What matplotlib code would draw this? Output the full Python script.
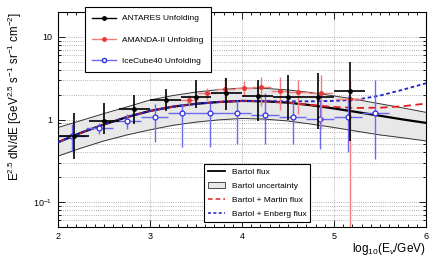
import matplotlib
matplotlib.use("Agg")
import matplotlib.pyplot as plt
from matplotlib.lines import Line2D
from matplotlib.patches import Patch
from matplotlib.ticker import FixedLocator, FixedFormatter, MultipleLocator, LogLocator, NullFormatter
import numpy as np

plt.rcParams["font.family"] = ["Liberation Sans", "DejaVu Sans"]
plt.rcParams["mathtext.fontset"] = "custom"
plt.rcParams["mathtext.rm"] = "Liberation Sans"
plt.rcParams["mathtext.it"] = "Liberation Sans:italic"

# Bartol model curves
model_x = [2.0, 2.25, 2.5, 2.75, 3.0, 3.25, 3.5, 3.75, 4.0, 4.25, 4.5, 4.75, 5.0, 5.25, 5.5, 5.75, 6.0]
bartol = [0.53, 0.69, 0.87, 1.07, 1.27, 1.43, 1.55, 1.63, 1.68, 1.66, 1.60, 1.49, 1.36, 1.23, 1.11, 1.00, 0.91]
bartol_hi = [0.80, 0.97, 1.18, 1.42, 1.72, 1.95, 2.15, 2.30, 2.40, 2.38, 2.28, 2.12, 1.93, 1.74, 1.55, 1.38, 1.22]
bartol_lo = [0.36, 0.45, 0.55, 0.65, 0.75, 0.85, 0.93, 0.99, 1.03, 1.01, 0.96, 0.88, 0.80, 0.72, 0.65, 0.60, 0.55]
martin = [0.53, 0.69, 0.87, 1.07, 1.27, 1.43, 1.55, 1.63, 1.68, 1.66, 1.60, 1.50, 1.42, 1.38, 1.39, 1.45, 1.56]
enberg = [0.53, 0.69, 0.87, 1.07, 1.27, 1.43, 1.55, 1.63, 1.68, 1.67, 1.66, 1.66, 1.68, 1.74, 1.95, 2.30, 2.75]

# ANTARES unfolding
ant_x = [2.17, 2.5, 2.83, 3.17, 3.5, 3.83, 4.17, 4.5, 4.83, 5.17]
ant_y = [0.63, 0.96, 1.34, 1.72, 1.88, 2.08, 1.95, 1.85, 1.85, 2.20]
ant_hi = [1.20, 1.59, 2.00, 2.37, 3.00, 3.20, 3.00, 3.50, 3.65, 5.00]
ant_lo = [0.33, 0.66, 0.87, 1.26, 1.38, 1.30, 0.95, 1.00, 0.77, 0.55]
ant_w = 1 / 6

# AMANDA-II unfolding
ama_x = [3.42, 3.62, 3.82, 4.02, 4.21, 4.41, 4.61, 4.86, 5.17]
ama_y = [1.74, 2.10, 2.37, 2.39, 2.48, 2.24, 2.16, 2.10, 1.79]
ama_hi = [2.00, 2.40, 3.20, 2.90, 3.30, 3.30, 3.00, 3.50, 3.00]
ama_lo = [1.45, 1.74, 1.74, 1.95, 1.45, 1.32, 1.15, 0.76, 0.01]
ama_w = [0.1, 0.1, 0.1, 0.1, 0.1, 0.1, 0.12, 0.13, 0.15]

# IceCube40 unfolding
ic_x = [2.15, 2.45, 2.75, 3.05, 3.35, 3.65, 3.95, 4.25, 4.55, 4.85, 5.15, 5.45]
ic_y = [0.63, 0.79, 0.95, 1.07, 1.20, 1.20, 1.20, 1.12, 1.08, 1.02, 1.07, 1.20]
ic_hi = [0.87, 0.91, 1.15, 1.52, 1.52, 1.60, 1.74, 2.10, 1.66, 1.66, 1.90, 3.00]
ic_lo = [0.41, 0.66, 0.76, 0.53, 0.46, 0.46, 0.50, 0.50, 0.50, 0.44, 0.40, 0.33]
ic_w = 0.15

red = "#e8383a"
red_bar = "#f07c7c"
blue = "#2f2fe0"
blue_bar = "#6a6af0"
band = "#e8e8e8"

fig = plt.figure(figsize=(4.42, 2.57), dpi=100)
ax = fig.add_axes([0.131, 0.117, 0.833, 0.836])

# model band + curves
ax.fill_between(model_x, bartol_lo, bartol_hi, color=band, lw=0, zorder=1)
ax.plot(model_x, bartol_hi, color="#333333", lw=0.7, zorder=2)
ax.plot(model_x, bartol_lo, color="#333333", lw=0.7, zorder=2)
ax.plot(model_x, bartol, color="black", lw=1.6, zorder=3)
ax.plot(model_x, martin, color="#e02020", lw=1.3, ls=(0, (4, 2.5)), zorder=4)
ax.plot(model_x, enberg, color="#2020cc", lw=1.3, ls=(0, (2, 1.5)), zorder=5)

# data points
def yerr(y, lo, hi):
    y = np.array(y)
    return [y - np.array(lo), np.array(hi) - y]

ax.errorbar(ic_x, ic_y, yerr=yerr(ic_y, ic_lo, ic_hi), xerr=ic_w, fmt="o", ms=3.5,
            mfc="white", mec=blue, mew=0.9, ecolor=blue_bar, elinewidth=1.0, capsize=0, zorder=6)
ax.errorbar(ama_x, ama_y, yerr=yerr(ama_y, ama_lo, ama_hi), xerr=ama_w, fmt="o", ms=2.5,
            color=red, ecolor=red_bar, elinewidth=1.0, capsize=0, zorder=7)
ax.errorbar(ant_x, ant_y, yerr=yerr(ant_y, ant_lo, ant_hi), xerr=ant_w, fmt="o", ms=2.5,
            color="black", ecolor="black", elinewidth=1.2, capsize=0, zorder=8)

ax.set_yscale("log")
ax.set_xlim(2, 6)
ax.set_ylim(0.05, 20)

ax.xaxis.set_major_locator(MultipleLocator(1))
ax.xaxis.set_minor_locator(MultipleLocator(0.1))
ax.yaxis.set_major_locator(FixedLocator([0.1, 1, 10]))
ax.yaxis.set_major_formatter(FixedFormatter(["10$^{-1}$", "1", "10"]))
ax.yaxis.set_minor_locator(LogLocator(base=10, subs=np.arange(2, 10)))
ax.yaxis.set_minor_formatter(NullFormatter())

ax.tick_params(which="both", direction="in", top=True, right=True, labelsize=6.5, width=0.6)
ax.tick_params(which="major", length=5, pad=4)
ax.tick_params(which="minor", length=2.5)

ax.grid(True, which="major", axis="x", ls=":", color="#999999", lw=0.6)
ax.grid(True, which="both", axis="y", ls=":", color="#999999", lw=0.6)
ax.set_axisbelow(True)
for s in ax.spines.values():
    s.set_linewidth(0.8)

ax.set_xlabel(r"log$_{10}$(E$_{\nu}$/GeV)", fontsize=8.5, loc="right", labelpad=0)
ax.set_ylabel(r"E$^{2.5}$ dN/dE [GeV$^{2.5}$ s$^{-1}$ sr$^{-1}$ cm$^{-2}$]", fontsize=8.3, loc="top", labelpad=7)

# legends
h_data = [
    Line2D([], [], color="black", marker="o", ms=2.5, lw=1.0),
    Line2D([], [], color=red_bar, marker="o", ms=2.5, mfc=red, mec=red, lw=1.0),
    Line2D([], [], color=blue_bar, marker="o", ms=3, mfc="white", mec=blue, lw=1.0),
]
leg1 = ax.legend(h_data, ["ANTARES Unfolding", "AMANDA-II Unfolding", "IceCube40 Unfolding"],
                 loc="upper left", bbox_to_anchor=(0.073, 1.023), fontsize=6, frameon=True,
                 fancybox=False, edgecolor="black", framealpha=1, labelspacing=1.6,
                 handlelength=2.8, borderpad=0.9, borderaxespad=0)
leg1.get_frame().set_linewidth(0.8)
leg1.set_zorder(20)
ax.add_artist(leg1)

h_model = [
    Line2D([], [], color="black", lw=1.3),
    Patch(facecolor=band, edgecolor="#333333", lw=0.6),
    Line2D([], [], color="#e02020", lw=1.1, ls=(0, (3, 2))),
    Line2D([], [], color="#2020cc", lw=1.1, ls=(0, (2, 1.5))),
]
leg2 = ax.legend(h_model, ["Bartol flux", "Bartol uncertainty", "Bartol + Martin flux", "Bartol + Enberg flux"],
                 loc="lower left", bbox_to_anchor=(0.397, 0.023), fontsize=6, frameon=True,
                 fancybox=False, edgecolor="black", framealpha=1, labelspacing=0.75,
                 handlelength=2.0, borderpad=0.5, borderaxespad=0)
leg2.get_frame().set_linewidth(0.8)
leg2.set_zorder(20)

fig.savefig("out.png", dpi=100)
